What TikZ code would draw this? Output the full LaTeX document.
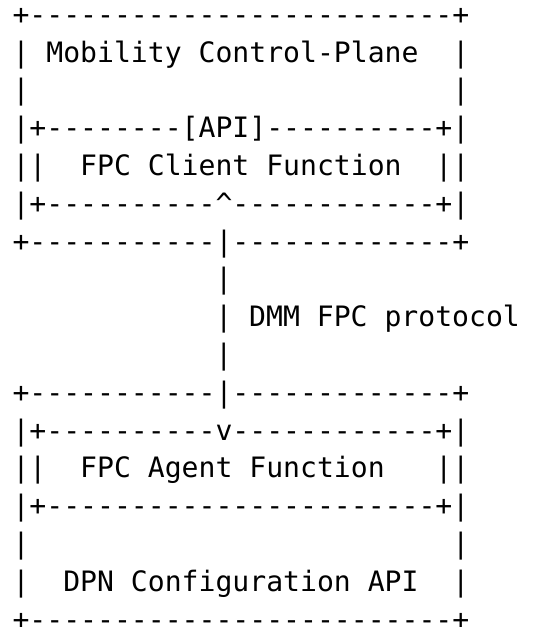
\documentclass[tikz,border=0pt]{standalone}
\usepackage{fontspec}
\setmonofont{DejaVu Sans Mono}
\usepackage{tikz}

\begin{document}
\begin{tikzpicture}
		[x=8.45pt, y=-18.9pt,
		a/.style={font=\ttfamily\fontsize{14.05}{16}\selectfont, anchor=base west, inner sep=0pt, outer sep=0pt}]

		\useasboundingbox (-6.28pt,12.15pt) rectangle (270.72pt,-301.35pt);

		\node[a] (c0) at (0,0) {+-------------------------+};
		\node[a] (c1) at (0,1) {|~Mobility~Control-Plane~~|};
		\node[a] (c2) at (0,2) {|~~~~~~~~~~~~~~~~~~~~~~~~~|};
		\node[a] (c3) at (0,3) {|+--------[API]----------+|};
		\node[a] (c4) at (0,4) {||~~FPC~Client~Function~~||};
		\node[a] (c5) at (0,5) {|+----------\textasciicircum------------+|};
		\node[a] (c6) at (0,6) {+-----------|-------------+};

		\node[a] (p0) at (12,7) {|};
		\node[a] (p1) at (12,8) {|~DMM~FPC~protocol};
		\node[a] (p2) at (12,9) {|};

		\node[a] (d0) at (0,10) {+-----------|-------------+};
		\node[a] (d1) at (0,11) {|+----------v------------+|};
		\node[a] (d2) at (0,12) {||~~FPC~Agent~Function~~~||};
		\node[a] (d3) at (0,13) {|+-----------------------+|};
		\node[a] (d4) at (0,14) {|~~~~~~~~~~~~~~~~~~~~~~~~~|};
		\node[a] (d5) at (0,15) {|~~DPN~Configuration~API~~|};
		\node[a] (d6) at (0,16) {+-------------------------+};

	\end{tikzpicture}
\end{document}
